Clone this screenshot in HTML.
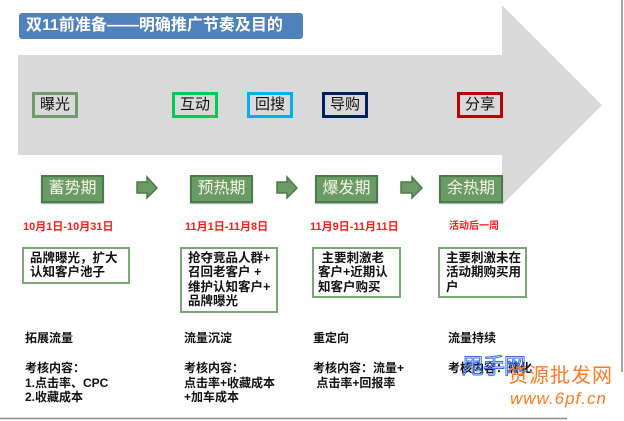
<!DOCTYPE html>
<html><head><meta charset="utf-8">
<style>
html,body{margin:0;padding:0;background:#fff;}
body{width:624px;height:421px;position:relative;overflow:hidden;font-family:"Liberation Sans","Noto Sans CJK SC","WenQuanYi Zen Hei",sans-serif;}
.a{position:absolute;white-space:nowrap;}
.title{left:19px;top:13px;width:284px;height:26px;background:#4f81bd;border-radius:3px;color:#fff;font-weight:bold;font-size:16px;line-height:26px;padding-left:7px;box-sizing:border-box;}
.tag{position:absolute;top:92px;height:26px;width:46px;box-sizing:border-box;border:3px solid;font-size:15px;line-height:20px;text-align:center;color:#111;background:#d9d9d9;}
.ph{position:absolute;top:175px;height:28px;width:63px;box-sizing:border-box;background:#6b9b64;border:2px solid #4e7a49;color:#f4f4e8;font-size:16px;line-height:24px;text-align:center;box-shadow:0 1px 1px #9ab;}
.date{position:absolute;top:220px;color:#ff1a1a;font-weight:bold;font-size:11px;line-height:14px;white-space:nowrap;}
.box{position:absolute;top:247px;box-sizing:border-box;border:2px solid #7aa874;font-weight:bold;font-size:12.5px;line-height:14.3px;color:#111;padding:2px 0 0 6px;white-space:pre;}
.bt{position:absolute;font-weight:bold;font-size:12px;line-height:14.5px;color:#111;white-space:pre;}
</style></head><body>
<svg class="a" style="left:0;top:0" width="624" height="421">
  <polygon points="18,55 502,55 502,5 602,105 502,205 502,155 18,155" fill="#d9d9d9"/>
  <g fill="#6b9b64" stroke="#4e7a49" stroke-width="1.5">
    <polygon points="137,182 147,182 147,177 157,188 147,198 147,193 137,193"/>
    <polygon points="277,182 287,182 287,177 297,188 287,198 287,193 277,193"/>
    <polygon points="401,182 412,182 412,177 422,188 412,198 412,193 401,193"/>
  </g>
  <line x1="622" y1="0" x2="622" y2="372" stroke="#8a8a8a" stroke-width="1.5"/>
  <line x1="0" y1="418.5" x2="567" y2="418.5" stroke="#8a8a8a" stroke-width="1.5"/>
</svg>
<div class="a title">双11前准备——明确推广节奏及目的</div>

<div class="tag" style="left:32px;border-color:#739a6e;">曝光</div>
<div class="tag" style="left:172px;border-color:#00cc55;">互动</div>
<div class="tag" style="left:247px;border-color:#00b0f0;">回搜</div>
<div class="tag" style="left:322px;border-color:#002060;">导购</div>
<div class="tag" style="left:457px;border-color:#c00000;">分享</div>

<div class="ph" style="left:41px;">蓄势期</div>
<div class="ph" style="left:190px;">预热期</div>
<div class="ph" style="left:315px;">爆发期</div>
<div class="ph" style="left:439px;width:64px;">余热期</div>

<div class="date" style="left:23px;">10月1日-10月31日</div>
<div class="date" style="left:185px;">11月1日-11月8日</div>
<div class="date" style="left:310px;">11月9日-11月11日</div>
<div class="date" style="left:449px;font-size:10px;">活动后一周</div>

<div class="box" style="left:22px;width:108px;height:37px;">品牌曝光，扩大
认知客户池子</div>
<div class="box" style="left:180px;width:98px;height:66px;">抢夺竞品人群+
召回老客户 +
维护认知客户+
品牌曝光</div>
<div class="box" style="left:312px;width:89px;height:51px;padding-left:4px;"> 主要刺激老
客户+近期认
知客户购买</div>
<div class="box" style="left:438px;width:89px;height:51px;">主要刺激未在
活动期购买用
户</div>

<div class="bt" style="left:25px;top:331px;">拓展流量</div>
<div class="bt" style="left:25px;top:361px;">考核内容：
1.点击率、CPC
2.收藏成本</div>
<div class="bt" style="left:184px;top:331px;">流量沉淀</div>
<div class="bt" style="left:184px;top:361px;">考核内容：
点击率+收藏成本
+加车成本</div>
<div class="bt" style="left:313px;top:331px;">重定向</div>
<div class="bt" style="left:313px;top:361px;">考核内容：流量+
 点击率+回报率</div>
<div class="bt" style="left:448px;top:331px;">流量持续</div>
<div class="bt" style="left:448px;top:361px;">考核内容：转化</div>

<div class="a" style="left:462px;top:355px;font-size:22px;line-height:24px;color:rgba(255,255,255,0);-webkit-text-stroke:1px #3a6ee8;letter-spacing:-1px;">甩手网</div>
<div class="a" style="left:508px;top:364px;font-size:20px;line-height:24px;color:#ff7a22;letter-spacing:1px;">货源批发网</div>
<div class="a" style="left:510px;top:390px;font-size:17px;line-height:18px;color:#ff7a22;font-style:italic;letter-spacing:1px;">www.6pf.cn</div>
</body></html>
